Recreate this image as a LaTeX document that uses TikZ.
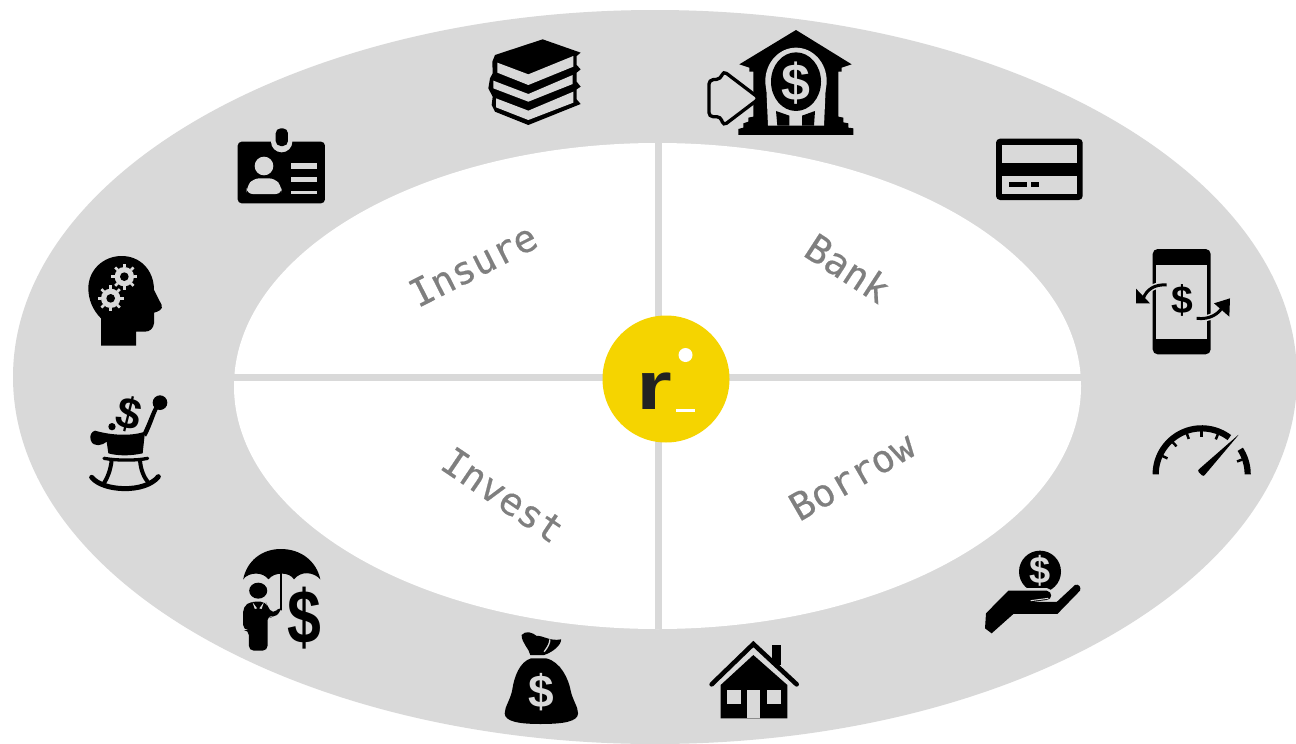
\documentclass[tikz,border=0pt]{standalone}
\usepackage{fontspec}
\setmainfont{Liberation Sans}
\newfontfamily\quadrantfont[FakeBold=0.5]{DejaVu Sans Mono}
\definecolor{ringgray}{HTML}{D9D9D9}
\definecolor{labelgray}{HTML}{7F7F7F}
\definecolor{logoyellow}{HTML}{F5D400}
\definecolor{logoblack}{HTML}{222222}
\tikzset{
    crop/.style 2 args={shift={(#1,#2)},scale=1/3},
    cropwide/.style 2 args={shift={(#1,#2)},xscale=0.3763,yscale=1/3},
    dollar/.style={inner sep=0pt,font=\bfseries\fontsize{#1}{#1}\selectfont},
    quadrant/.style={inner sep=0pt,text=labelgray,font=\quadrantfont\fontsize{38}{40}\selectfont},
}
\newcommand{\gearicon}[2]{
    \fill[ringgray] (#1,#2) circle (29);
    \foreach \a in {0,45,...,315}
        \draw[ringgray,line width=2.6] ({#1+28*cos(\a)},{#2+28*sin(\a)}) -- ({#1+39*cos(\a)},{#2+39*sin(\a)});
    \fill (#1,#2) circle (13);
}
\begin{document}
\begin{tikzpicture}[x=1pt,y=-1pt]
    \def\outerring{(655,377) ellipse (642 and 367)}
    \def\innerring{(657.5,386) ellipse (423.5 and 243)}

    \clip (0,0) rectangle (1296,744);
    \fill[white] (0,0) rectangle (1296,744);
    \fill[ringgray] \outerring;
    \fill[white] \innerring;

    \draw[ringgray,line width=7] (658,143) -- (658,629);
    \draw[ringgray,line width=7] (234,377) -- (1081,377);

    \fill[logoyellow] (666,379) circle (63.5);
    \fill[white] (685.5,355) circle (7);
    \fill[white] (676,409) rectangle (695,412);
    \node[inner sep=0pt,text=logoblack,xscale=1.35,font=\bfseries\fontsize{68}{68}\selectfont] (logo) at (654.5,391) {r};

    \node[quadrant,rotate=27] (insure) at (473,265) {Insure};
    \node[quadrant,rotate=-33] (bank) at (848,268) {Bank};
    \node[quadrant,rotate=-34] (invest) at (503,495) {Invest};
    \node[quadrant,rotate=30] (borrow) at (852,476) {Borrow};

    % books
    \begin{scope}[crop={460}{20}]
        \fill (248,58) -- (362,98) -- (350,108) -- (350,135) -- (362,148) -- (350,158) -- (350,185) -- (362,200)
            -- (350,208) -- (350,238) -- (362,252) -- (205,315) -- (105,275) -- (95,255) -- (98,230) -- (85,205)
            -- (90,175) -- (98,160) -- (97,125) -- (105,105) -- cycle;
        \fill[ringgray] (112,128) -- (205,163) -- (340,108) -- (340,140) -- (205,195) -- (112,158) -- cycle;
        \fill[ringgray] (100,182) -- (205,222) -- (338,165) -- (338,192) -- (205,245) -- (100,205) -- cycle;
        \fill[ringgray] (108,235) -- (205,272) -- (340,215) -- (340,248) -- (205,300) -- (108,262) -- cycle;
    \end{scope}

    % bank
    \begin{scope}[crop={700}{25}]
        \fill (288,15) -- (455,118) -- (425,128) -- (425,140) -- (415,140) -- (415,275) -- (430,278) -- (430,292)
            -- (445,295) -- (445,308) -- (460,310) -- (460,330) -- (115,330) -- (115,312) -- (130,308) -- (130,295)
            -- (145,290) -- (145,278) -- (160,275) -- (160,140) -- (148,140) -- (148,128) -- (118,118) -- cycle;
        \fill[ringgray] (288,168) ellipse (92 and 100);
        \fill[ringgray] (198,168) -- (378,168) -- (372,302) -- (204,302) -- cycle;
        \fill (228,258) -- (268,272) -- (268,302) -- (232,302) -- cycle;
        \fill (345,258) -- (306,272) -- (306,302) -- (342,302) -- cycle;
        \fill (288,170) ellipse (75 and 88);
        \draw[rounded corners=4,line width=3.3,fill=ringgray] (27,165) -- (62,162) -- (70,138) -- (178,220)
            -- (70,302) -- (62,275) -- (27,275) -- cycle;
        \node[dollar=52,text=ringgray] (bankdollar) at (288,174) {\$};
    \end{scope}

    % id badge
    \begin{scope}[crop={60}{120}]
        \fill[rounded corners=4] (533,65) rectangle (795,250);
        \fill[ringgray] (665,65) circle (32);
        \fill[rounded corners=5] (647,25) rectangle (684,78);
        \fill[ringgray] (612,138) circle (28);
        \fill[ringgray,rounded corners=6] (560,222) -- (560,200) -- (580,175) -- (645,175) -- (665,200) -- (665,222) -- cycle;
        \fill[ringgray] (692,130) rectangle (770,147);
        \fill[ringgray] (692,170) rectangle (770,186);
        \fill[ringgray] (692,212) rectangle (770,223);
    \end{scope}

    % head with gears
    \begin{scope}[crop={60}{120}]
        \fill (123,677) -- (123,595) .. controls (98,570) and (85,538) .. (85,505)
            .. controls (85,450) and (130,408) .. (185,408) .. controls (240,408) and (282,450) .. (282,510)
            -- (305,555) .. controls (310,568) and (295,575) .. (282,578) -- (282,610)
            .. controls (280,625) and (270,635) .. (255,635) -- (228,635) -- (228,677) -- cycle;
        \gearicon{193}{470}
        \gearicon{152}{535}
    \end{scope}

    % rocking chair
    \begin{scope}[crop={80}{390}]
        \draw[line width=5,line cap=round] (35,262) .. controls (70,305) and (195,310) .. (235,260);
        \draw[line width=4] (95,210) .. controls (92,240) and (82,265) .. (70,282);
        \draw[line width=4] (180,210) .. controls (182,240) and (192,262) .. (205,278);
        \draw[line width=3.3,line cap=round] (72,205) .. controls (110,212) and (170,212) .. (203,205);
        \fill (45,122) .. controls (90,135) and (150,140) .. (195,125) -- (188,190) .. controls (150,198) and (115,198) .. (85,190)
            -- (80,155) .. controls (70,165) and (40,175) .. (32,150) .. controls (28,135) and (35,125) .. (45,122) -- cycle;
        \fill (188,130) .. controls (205,95) and (212,70) .. (226,45) -- (236,52) .. controls (222,80) and (215,110) .. (198,140) -- cycle;
        \fill (240,38) circle (22);
        \fill (96,110) circle (11);
        \node[dollar=44,rotate=-14] (chairdollar) at (148,72) {\$};
    \end{scope}

    % umbrella and man
    \begin{scope}[cropwide={230}{540}]
        \fill (35,118) .. controls (45,62) and (85,27) .. (135,27) .. controls (190,27) and (230,65) .. (240,118)
            .. controls (222,95) and (188,92) .. (170,118) .. controls (158,95) and (118,95) .. (102,118)
            .. controls (88,95) and (50,95) .. (35,118) -- cycle;
        \draw[line width=1.5] (135,100) -- (135,210);
        \fill (75,152) circle (24);
        \fill[rounded corners=5] (35,270) -- (35,200) -- (55,185) -- (95,185) -- (100,200) -- (114,222) -- (135,198)
            -- (138,212) -- (114,235) -- (100,225) -- (100,332) -- (50,332) -- (50,270) -- cycle;
        \fill[ringgray] (60,187) -- (72,205) -- (66,207) -- cycle;
        \fill[ringgray] (90,187) -- (78,205) -- (84,207) -- cycle;
        \node[dollar=76,xscale=0.8] (umbrelladollar) at (199,233) {\$};
    \end{scope}

    % money bag
    \begin{scope}[cropwide={230}{540}]
        \fill (775,285) .. controls (785,270) and (805,278) .. (815,288) .. controls (830,285) and (850,305) .. (880,298)
            .. controls (880,315) and (860,335) .. (835,345) -- (798,345) .. controls (795,325) and (775,310) .. (775,285) -- cycle;
        \draw[ringgray,line width=1.3] (835,335) .. controls (845,320) and (850,310) .. (850,298);
        \fill (800,355) -- (840,355) .. controls (880,365) and (900,420) .. (905,450)
            .. controls (910,480) and (925,500) .. (925,520) .. controls (925,545) and (885,552) .. (825,552)
            .. controls (770,552) and (730,545) .. (730,520) .. controls (730,500) and (745,480) .. (750,450)
            .. controls (755,410) and (770,365) .. (800,355) -- cycle;
        \node[dollar=46,text=ringgray] (bagdollar) at (828,455) {\$};
    \end{scope}

    % house
    \begin{scope}[crop={700}{635}]
        \fill (217,30) rectangle (243,90);
        \fill (62,250) -- (62,150) -- (160,60) -- (262,150) -- (262,250) -- cycle;
        \draw[line width=4.6,line cap=round] (35,148) -- (160,27) -- (290,148);
        \fill[ringgray] (82,165) rectangle (122,207);
        \fill[ringgray] (200,165) rectangle (243,207);
        \fill[ringgray] (142,165) rectangle (180,250);
    \end{scope}

    % card, phone, gauge, hand
    \begin{scope}[crop={980}{130}]
        \fill[rounded corners=4] (48,26) rectangle (308,210);
        \fill[ringgray] (67,45) rectangle (290,100);
        \fill[ringgray] (67,137) rectangle (290,192);
        \fill (87,157) rectangle (140,172);
        \fill (152,157) rectangle (178,172);

        \fill[rounded corners=5] (518,357) rectangle (692,673);
        \fill[ringgray] (528,405) rectangle (682,627);
        \draw[ringgray,line width=6] (560,465) .. controls (525,462) and (500,478) .. (490,505);
        \draw[ringgray,line width=6] (650,565) .. controls (690,570) and (718,550) .. (728,530);
        \draw[line width=3] (560,465) .. controls (525,462) and (500,478) .. (490,505);
        \draw[line width=3] (650,565) .. controls (690,570) and (718,550) .. (728,530);
        \fill (468,476) -- (468,520) -- (510,520) -- cycle;
        \fill (702,520) -- (750,505) -- (748,560) -- cycle;
        \node[dollar=39] (phonedollar) at (607,512) {\$};

        \draw[line width=6.2] plot[domain=180:53,samples=40] ({665+138*cos(\x)},{1033-138*sin(\x)});
        \draw[line width=6.2] plot[domain=33:0,samples=12] ({665+138*cos(\x)},{1033-138*sin(\x)});
        \foreach \a in {155,132,110,90,68,20}
            \draw[line width=2.5] ({665+130*cos(\a)},{1033-130*sin(\a)}) -- ({665+113*cos(\a)},{1033-113*sin(\a)});
        \fill[rounded corners=2] (778,912) -- (670,1040) -- (652,1022) -- cycle;

        \fill (180,1325) circle (63);
        \node[dollar=38,text=ringgray] (handdollar) at (180,1322) {\$};
        \def\handshape{(18,1450) -- (85,1382) -- (200,1382) .. controls (218,1385) and (218,1408) .. (200,1410) -- (152,1416)
            -- (230,1416) -- (285,1365) .. controls (295,1360) and (305,1372) .. (300,1382) -- (232,1452) -- (100,1452)
            -- (35,1510) -- (15,1495) -- cycle}
        \draw[ringgray,line width=5,line join=round] \handshape;
        \fill \handshape;
        \draw[ringgray,line width=1] (152,1412) -- (205,1405);
    \end{scope}
\end{tikzpicture}
\end{document}
